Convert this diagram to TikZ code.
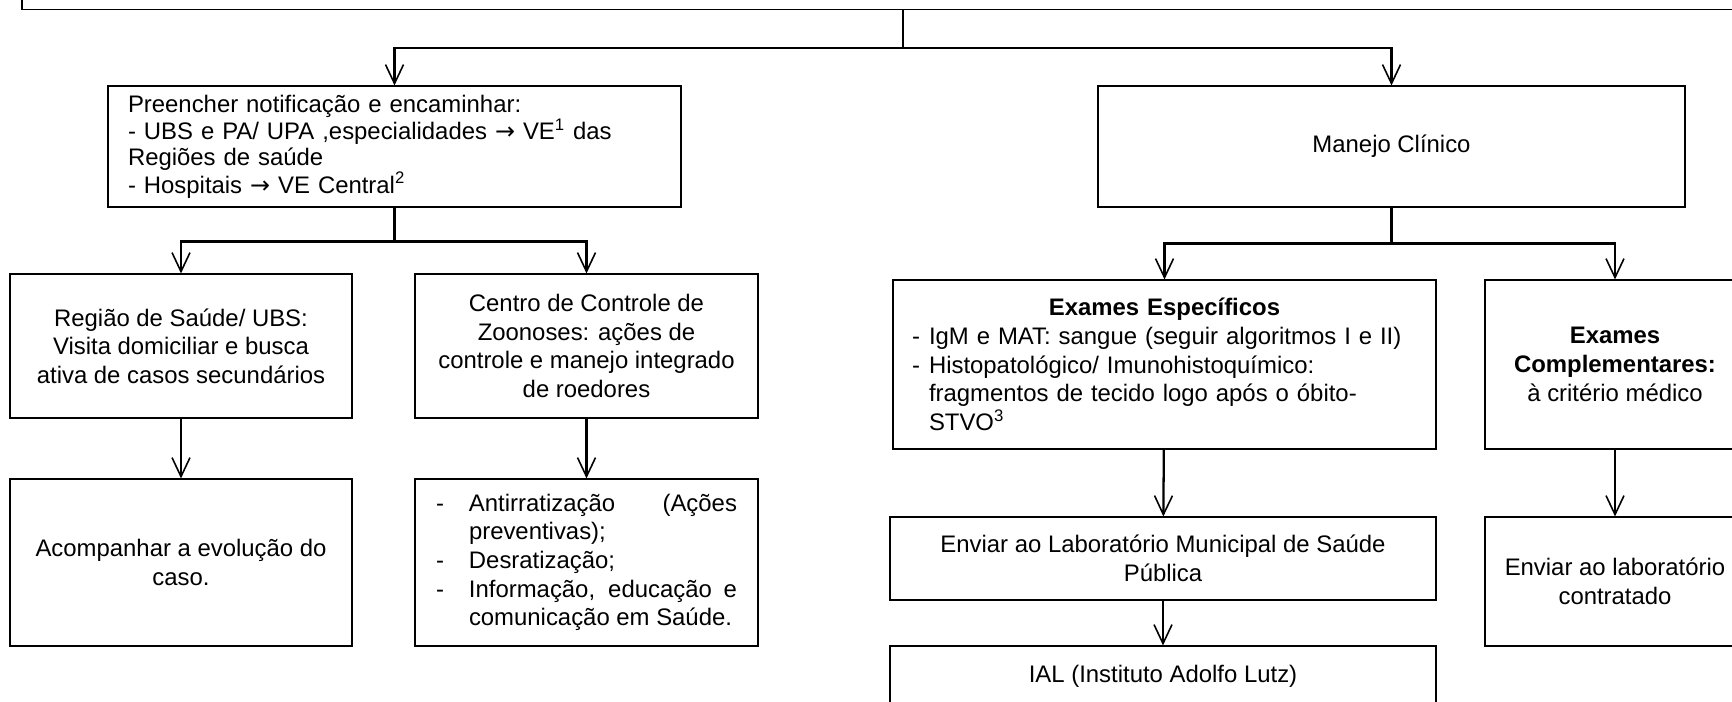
\documentclass[tikz,border=0pt]{standalone}
\usepackage{fontspec}
\setmainfont{Liberation Sans}
\newfontfamily\setafont{DejaVu Sans}
\usepackage{tikz}
\usetikzlibrary{arrows.meta}

\begin{document}
\begin{tikzpicture}[
    box/.style={draw, line width=0.65pt, inner sep=0pt, align=center, font=\fontsize{13.6}{16.3}\selectfont},
    seta/.style={-{Straight Barb[length=0.38cm,width=0.36cm,line width=0.9pt]}, line width=1.3pt},
    liga/.style={-, line width=1.3pt}]
   \useasboundingbox (0,0) rectangle (34.64,-14.02);
   \clip (0,0) rectangle (34.64,-14.02);

   \draw (17.9,0.41) node[box, minimum width=34.92cm, minimum height=1.2cm] (topo) {};
   \draw (7.89,-2.93) node[box, text width=10.66cm, inner xsep=0.4cm, minimum height=2.42cm, align=left, font=\fontsize{13.6}{14.6}\selectfont] (notif) {Preencher notificação e encaminhar:\\ - UBS e PA/ UPA ,especialidades {\setafont →} VE\textsuperscript{1} das\\ Regiões de saúde\\ - Hospitais {\setafont →} VE Central\textsuperscript{2}};
   \draw (27.83,-2.93) node[box, minimum width=11.74cm, minimum height=2.42cm] (manejo) {Manejo Clínico};

   \draw (3.62,-6.92) node[box, minimum width=6.84cm, minimum height=2.88cm] (regiao) {Região de Saúde/ UBS:\\ Visita domiciliar e busca\\ ativa de casos secundários};
   \draw (11.73,-6.92) node[box, minimum width=6.86cm, minimum height=2.88cm] (ccz) {Centro de Controle de\\ Zoonoses: ações de\\ controle e manejo integrado\\ de roedores};
   \draw (3.62,-11.25) node[box, minimum width=6.84cm, minimum height=3.34cm] (acomp) {Acompanhar a evolução do\\ caso.};
   \draw (11.73,-11.25) node[box, text width=6.02cm, inner xsep=0.42cm, minimum height=3.34cm, align=justify] (acoes) {\hyphenpenalty=10000
     \hangindent=0.66cm\hangafter=1\noindent\makebox[0.66cm][l]{-}Antirratização (Ações preventivas);\par
     \hangindent=0.66cm\hangafter=1\noindent\makebox[0.66cm][l]{-}Desratização;\par
     \hangindent=0.66cm\hangafter=1\noindent\makebox[0.66cm][l]{-}Informação, educação e comunicação em Saúde.\par};

   \draw (23.29,-7.29) node[box, text width=10.1cm, inner xsep=0.38cm, minimum height=3.38cm, align=left] (especif) {{\centering\textbf{Exames Específicos}\par}
     \makebox[0.34cm][l]{-}IgM e MAT: sangue (seguir algoritmos I e II)\\ \makebox[0.34cm][l]{-}Histopatológico/ Imunohistoquímico:\\ \hspace*{0.34cm}fragmentos de tecido logo após o óbito-\\ \hspace*{0.34cm}STVO\textsuperscript{3}};
   \draw (32.30,-7.29) node[box, minimum width=5.2cm, minimum height=3.38cm] (compl) {\textbf{Exames}\\ \textbf{Complementares:}\\ à critério médico};
   \draw (23.26,-11.17) node[box, minimum width=10.92cm, minimum height=1.66cm] (lab) {Enviar ao Laboratório Municipal de Saúde\\ Pública};
   \draw (23.26,-13.52) node[box, minimum width=10.92cm, minimum height=1.2cm] (ial) {IAL (Instituto Adolfo Lutz)};
   \draw (32.30,-11.63) node[box, minimum width=5.2cm, minimum height=2.58cm] (contrat) {Enviar ao laboratório\\ contratado};

   \coordinate (j0) at (18.06,-0.96);
   \coordinate (j1) at (7.89,-4.83);
   \coordinate (j2) at (27.83,-4.87);
   \draw[liga] (topo.south -| j0) -- (j0);
   \draw[seta] (j0) -| (notif.north);
   \draw[seta] (j0) -| (manejo.north);
   \draw[liga] (notif.south) -- (j1);
   \draw[seta] (j1) -| (regiao.north);
   \draw[seta] (j1) -| (ccz.north);
   \draw[liga] (manejo.south) -- (j2);
   \draw[seta] (j2) -| (especif.north);
   \draw[seta] (j2) -| (compl.north);
       \path[seta] (regiao) edge (acomp);
       \path[seta] (ccz) edge (acoes);
       \path[seta] (especif) edge (lab);
       \path[seta] (lab) edge (ial);
       \path[seta] (compl) edge (contrat);
\end{tikzpicture}
\end{document}
